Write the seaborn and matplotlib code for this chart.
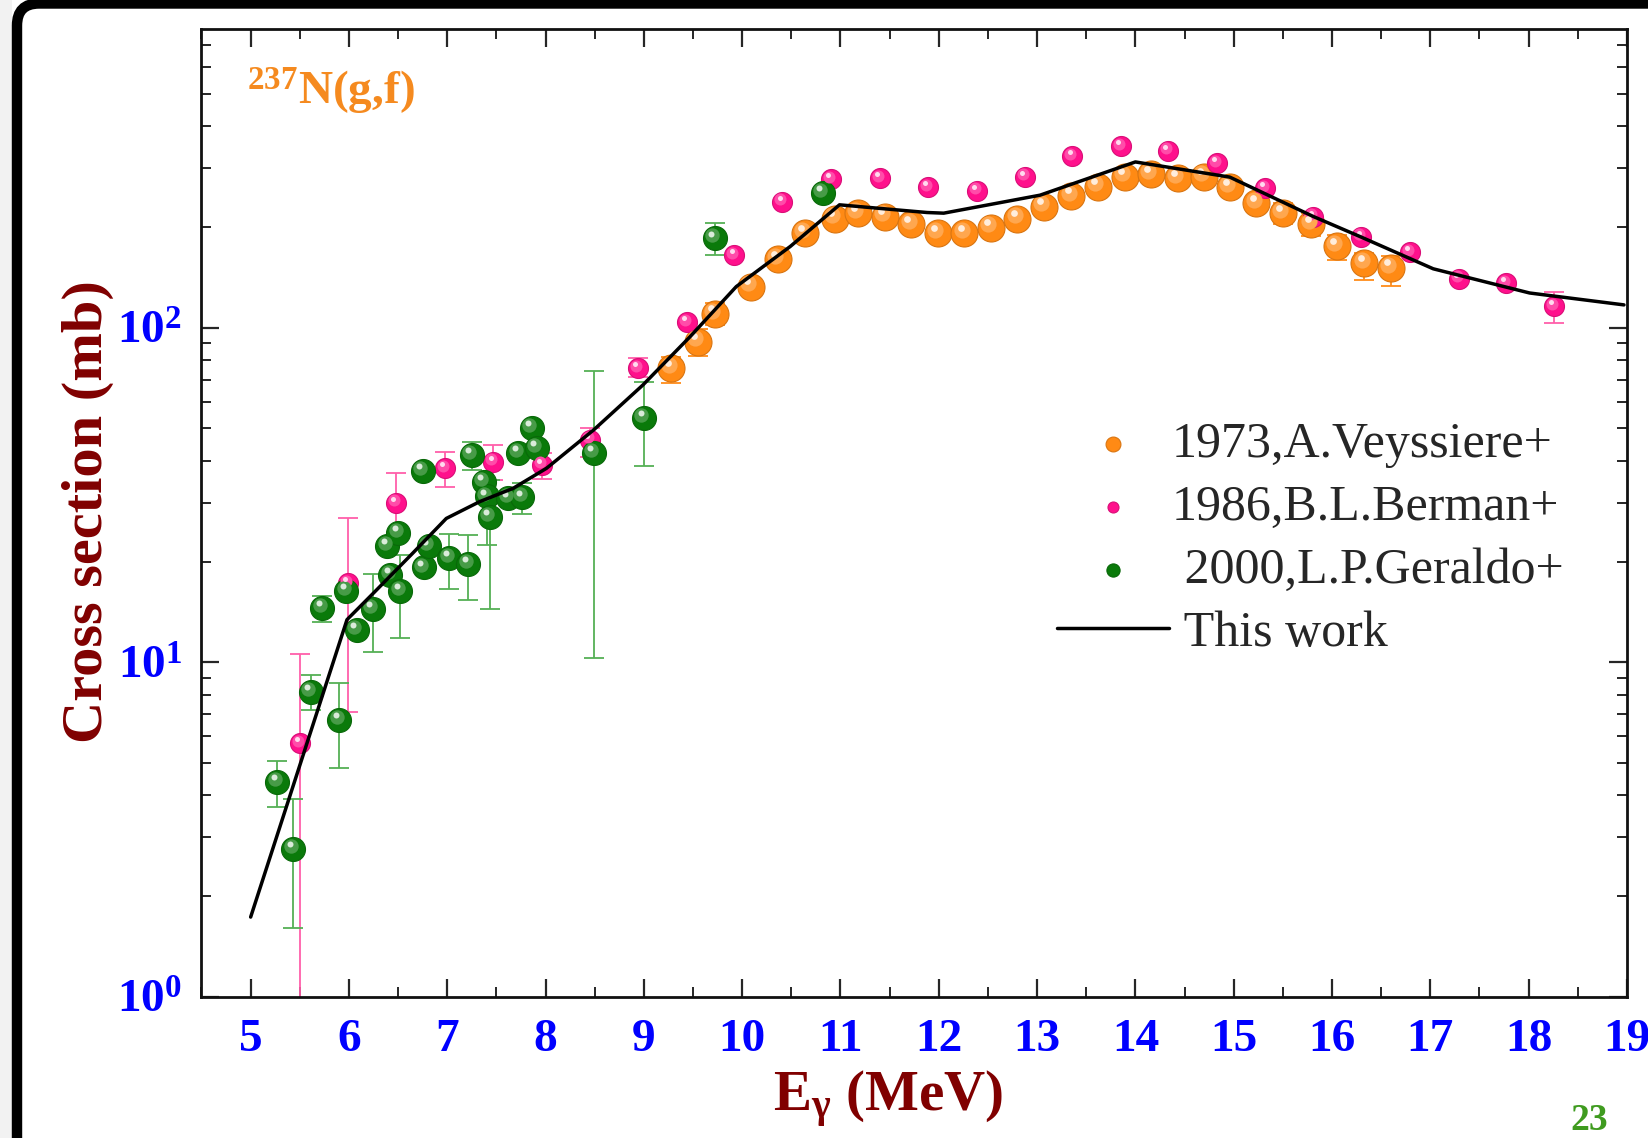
import numpy as np
import matplotlib
matplotlib.use("Agg")
import matplotlib.pyplot as plt
import seaborn as sns
from matplotlib.transforms import offset_copy, IdentityTransform
from matplotlib.patches import FancyBboxPatch, Rectangle
from matplotlib.ticker import FixedLocator, FixedFormatter, MultipleLocator, LogLocator, NullFormatter

# ---------------- data ----------------
# 1973, A. Veyssiere+
vey_x = [9.28, 9.55, 9.72, 10.09, 10.36, 10.64, 10.94, 11.18, 11.45, 11.72, 11.99, 12.26, 12.53, 12.80,
         13.07, 13.35, 13.62, 13.89, 14.16, 14.43, 14.70, 14.96, 15.23, 15.50, 15.79, 16.05, 16.33, 16.60]
vey_y = [75.6, 90.8, 110, 132.6, 160, 192, 212, 220, 215, 204, 192, 192, 199, 212,
         230, 248, 264, 283, 288, 280, 283, 263, 236, 220, 204, 175, 156, 151]
vey_lo = [68.5, 82.4, 102, 0, 0, 0, 0, 0, 0, 0, 0, 0, 0, 0,
          0, 0, 0, 0, 0, 0, 0, 0, 0, 204, 188, 159.5, 139, 133.5]
vey_hi = [81.9, 99, 118.5, 0, 0, 0, 0, 0, 0, 0, 0, 0, 0, 0,
          0, 0, 0, 0, 0, 0, 0, 0, 0, 236, 220, 189, 167, 164]

# 1986, B.L. Berman+
ber_x = [5.50, 5.99, 6.48, 6.98, 7.47, 7.96, 8.45, 8.94, 9.44, 9.92, 10.41, 10.90, 11.40, 11.89,
         12.39, 12.88, 13.36, 13.85, 14.33, 14.83, 15.32, 15.81, 16.30, 16.79, 17.29, 17.77, 18.26]
ber_y = [5.72, 17.2, 30.0, 38.0, 39.8, 38.9, 46.2, 75.6, 104, 165, 238, 278, 280, 263,
         257, 283, 325, 349, 338, 310, 261, 215, 187, 168, 140, 136, 116]
ber_lo = [0.5, 7.11, 24.5, 33.3, 35.1, 35.2, 41.1, 71, 0, 0, 0, 0, 0, 0,
          0, 0, 0, 0, 0, 0, 0, 0, 0, 0, 0, 0, 103]
ber_hi = [10.6, 26.9, 36.7, 42.6, 44.6, 42.1, 50.1, 81, 0, 0, 0, 0, 0, 0,
          0, 0, 0, 0, 0, 0, 0, 0, 0, 0, 0, 0, 128]

# 2000, L.P. Geraldo+
ger_x = [5.27, 5.43, 5.61, 5.73, 5.90, 5.97, 6.08, 6.24, 6.39, 6.42, 6.50, 6.52, 6.75, 6.76, 6.81,
         7.02, 7.21, 7.25, 7.37, 7.40, 7.43, 7.62, 7.72, 7.76, 7.86, 7.91, 8.49, 9.00, 9.72, 10.82]
ger_y = [4.38, 2.76, 8.16, 14.5, 6.72, 16.3, 12.5, 14.4, 22.3, 18.2, 24.4, 16.3, 37.4, 19.2, 22.2,
         20.5, 19.7, 41.6, 34.6, 31.3, 27.2, 30.9, 42.3, 31.1, 50.1, 43.6, 42.3, 53.6, 185, 253]
ger_lo = [3.68, 1.60, 7.2, 13.2, 4.82, 0, 0, 10.7, 0, 0, 0, 11.8, 0, 0, 0,
          16.6, 15.3, 37.5, 0, 22.4, 14.4, 0, 0, 27.7, 0, 0, 10.3, 38.6, 165, 0]
ger_hi = [5.08, 3.90, 9.16, 15.8, 8.65, 0, 0, 18.3, 0, 0, 0, 20.9, 0, 0, 0,
          24.2, 24.0, 45.6, 0, 40.0, 35.0, 0, 0, 34.3, 0, 0, 74.2, 69, 206, 0]

# This work (calculation)
calc_x = [5.0, 5.98, 6.25, 6.65, 6.99, 7.33, 7.67, 8.01, 8.49, 8.99, 9.47, 9.94, 10.49, 10.99,
          11.50, 11.88, 12.05, 13.03, 14.0, 14.96, 15.81, 16.29, 17.03, 18.01, 18.97]
calc_y = [1.73, 13.4, 16.1, 21.2, 26.9, 30.2, 33.1, 38.0, 49.5, 67.4, 94, 132.7, 175, 233,
          226, 221, 220, 249, 313, 282, 215, 187, 150, 127, 117]

x_ticks = [5, 6, 7, 8, 9, 10, 11, 12, 13, 14, 15, 16, 17, 18, 19]
y_ticks = [1, 10, 100]
y_tick_labels = [r"$\mathbf{10^{0}}$", r"$\mathbf{10^{1}}$", r"$\mathbf{10^{2}}$"]

# ---------------- style ----------------
sns.set_style("ticks")
plt.rcParams.update({
    "font.family": ["Liberation Serif", "DejaVu Serif"],
    "mathtext.fontset": "custom",
    "mathtext.rm": "Liberation Serif",
    "mathtext.bf": "Liberation Serif:bold",
    "mathtext.it": "Liberation Serif:italic",
    "xtick.direction": "in",
    "ytick.direction": "in",
})

W, H = 1649, 1138
fig = plt.figure(figsize=(W / 100, H / 100), dpi=100)
fig.patch.set_facecolor("white")

# slide frame
fig.add_artist(Rectangle((0, 0), 12, H, transform=IdentityTransform(), facecolor="#f2f2f2",
                         edgecolor="none", zorder=0))
fig.add_artist(FancyBboxPatch((17, -100), 1800, H - 3.5 + 100,
                              boxstyle="round,pad=0,rounding_size=22",
                              transform=IdentityTransform(), fill=False, edgecolor="black",
                              linewidth=7.5, zorder=1))

ax = fig.add_axes([201.5 / W, 1 - 996.7 / H, (1626.9 - 201.5) / W, (996.7 - 29.3) / H])
ax.set_yscale("log")


def mix(c, w):
    c = np.array(matplotlib.colors.to_rgb(c))
    return tuple(c + (1 - c) * w)


def dark(c, f):
    c = np.array(matplotlib.colors.to_rgb(c))
    return tuple(c * f)


def draw_set(x, y, lo, hi, color, ecolor, diam_px, label, capsize):
    x = np.array(x, float)
    y = np.array(y, float)
    lo = np.array(lo, float)
    hi = np.array(hi, float)
    has = lo > 0
    yerr = np.vstack([np.where(has, y - lo, 0), np.where(has, hi - y, 0)])
    ax.errorbar(x[has], y[has], yerr=yerr[:, has], fmt="none", ecolor=ecolor, elinewidth=1.3,
                capsize=capsize, capthick=1.3, zorder=2)
    d_pt = diam_px * 0.72
    sns.scatterplot(x=x, y=y, s=d_pt ** 2, color=color, edgecolor=dark(color, 0.85), linewidth=0.8,
                    label=label, ax=ax, zorder=3, legend=False)
    t1 = offset_copy(ax.transData, fig=fig, x=-diam_px * 0.10, y=diam_px * 0.12, units="dots")
    ax.scatter(x, y, s=(d_pt * 0.6) ** 2, color=mix(color, 0.25), linewidths=0, transform=t1, zorder=4)
    t2 = offset_copy(ax.transData, fig=fig, x=-diam_px * 0.14, y=diam_px * 0.2, units="dots")
    ax.scatter(x, y, s=(d_pt * 0.25) ** 2, color=mix(color, 0.85), linewidths=0, transform=t2, zorder=5)


draw_set(vey_x, vey_y, vey_lo, vey_hi, "#FF8A14", "#FF8C1A", 27, "1973,A.Veyssiere+", 7)
draw_set(ber_x, ber_y, ber_lo, ber_hi, "#FF108C", "#FF5FAA", 20, "1986,B.L.Berman+", 7)
draw_set(ger_x, ger_y, ger_lo, ger_hi, "#0A7A0A", "#55B055", 24, " 2000,L.P.Geraldo+", 7.5)
sns.lineplot(x=calc_x, y=calc_y, color="black", linewidth=2.5, sort=False, estimator=None,
             label=" This work", ax=ax, zorder=6, legend=False)

# axes
ax.set_xlim(4.5, 19)
ax.set_ylim(1, 780)
ax.xaxis.set_major_locator(FixedLocator(x_ticks))
ax.set_xticklabels([str(v) for v in x_ticks])
ax.xaxis.set_minor_locator(MultipleLocator(0.5))
ax.yaxis.set_major_locator(FixedLocator(y_ticks))
ax.yaxis.set_major_formatter(FixedFormatter(y_tick_labels))
ax.yaxis.set_minor_locator(LogLocator(base=10, subs=np.arange(2, 10)))
ax.yaxis.set_minor_formatter(NullFormatter())

for s in ax.spines.values():
    s.set_linewidth(2.0)
    s.set_color("#111111")
ax.tick_params(which="major", length=13, width=1.6, top=True, right=True, direction="in",
               labelsize=34, labelcolor="#0000FF")
ax.tick_params(axis="x", which="major", pad=16)
ax.tick_params(axis="y", which="major", pad=14)
ax.tick_params(which="minor", length=7, width=1.4, top=True, right=True, direction="in")
for lab in ax.get_xticklabels() + ax.get_yticklabels():
    lab.set_fontweight("bold")

ax.set_xlabel(r"E$_{\mathbf{γ}}$ (MeV)", fontsize=41, fontweight="bold", color="#800000", va="center")
ax.xaxis.set_label_coords(0.482, -0.106)
ax.set_ylabel("Cross section (mb)", fontsize=42, fontweight="bold", color="#800000", va="center")
ax.yaxis.set_label_coords(-0.080, 0.502)

ax.text(0.032, 0.9218, r"$^{\mathbf{237}}$N(g,f)", transform=ax.transAxes, fontsize=34,
        fontweight="bold", color="#F58A1F", ha="left", va="baseline")

handles, labels = ax.get_legend_handles_labels()
leg = ax.legend(handles, labels, loc="upper left", bbox_to_anchor=(0.600, 0.5947), frameon=False,
                fontsize=36, markerscale=0.55, handlelength=2.25, handletextpad=0.05,
                labelspacing=0.33, borderpad=0, borderaxespad=0)

fig.text(1570 / W, 0.007, "23", fontsize=27, fontweight="bold", color="#3F9B1F",
         ha="left", va="baseline")

fig.savefig("out.png", dpi=100)
